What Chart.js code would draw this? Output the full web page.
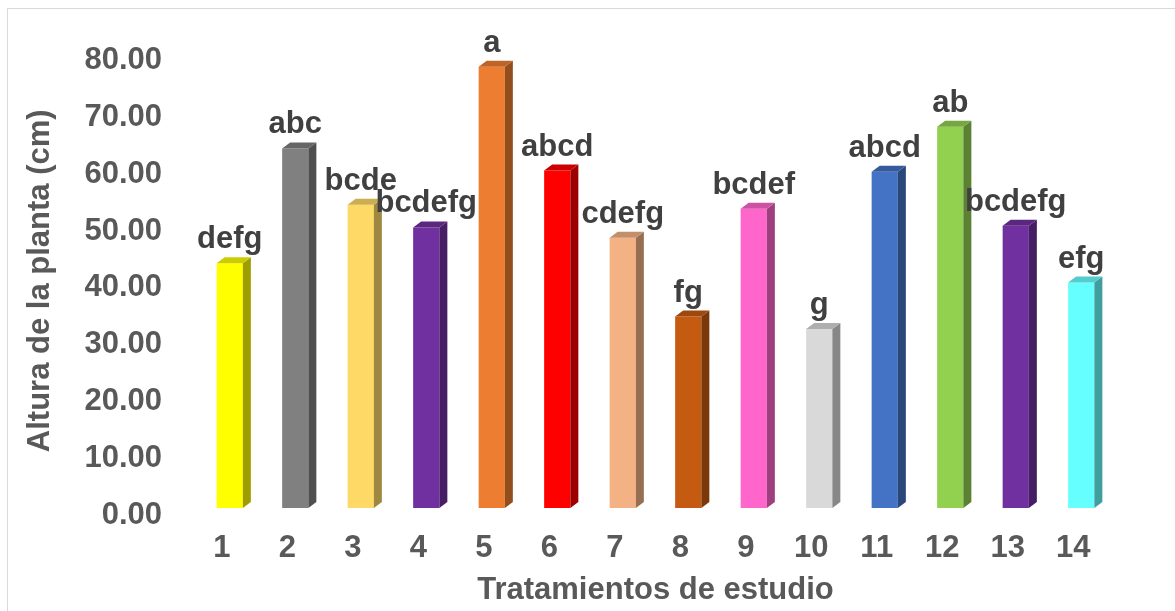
<!DOCTYPE html>
<html>
<head>
<meta charset="utf-8">
<script src="https://cdn.jsdelivr.net/npm/chart.js@4/dist/chart.umd.min.js"></script>
<style>
  html, body { margin: 0; padding: 0; background: #fff; }
  #wrap { position: relative; width: 1175px; height: 611px; overflow: hidden; }
  #frame { position: absolute; left: 7px; top: 8px; width: 1200px; height: 700px;
           border-left: 1px solid #d9d9d9; border-top: 1px solid #d9d9d9; }
  canvas { position: absolute; left: 0; top: 0; }
</style>
</head>
<body>
<div id="wrap">
  <div id="frame"></div>
  <canvas id="c" width="1175" height="611"></canvas>
</div>
<script>
const categories = ['1','2','3','4','5','6','7','8','9','10','11','12','13','14'];
const alturas = [43.1, 63.3, 53.4, 49.4, 77.7, 59.4, 47.6, 33.7, 52.7, 31.5, 59.2, 67.1, 49.7, 39.7];
const letras = ['defg','abc','bcde','bcdefg','a','abcd','cdefg','fg','bcdef','g','abcd','ab','bcdefg','efg'];
const colores = ['#FFFF00','#808080','#FFD966','#7030A0','#ED7D31','#FF0000','#F4B183','#C55A11','#FF66CC','#D9D9D9','#4472C4','#92D050','#7030A0','#66FFFF'];
const yTicks = [0, 10, 20, 30, 40, 50, 60, 70, 80];

const FONT = '"Liberation Sans", Arial, sans-serif';
const FS = 31;

function shade(hex, f) {
  const n = parseInt(hex.slice(1), 16);
  const r = Math.round(((n >> 16) & 255) * f);
  const g = Math.round(((n >> 8) & 255) * f);
  const b = Math.round((n & 255) * f);
  return `rgb(${r},${g},${b})`;
}

const bar3d = {
  id: 'bar3d',
  afterDatasetsDraw(chart) {
    const ctx = chart.ctx;
    const meta = chart.getDatasetMeta(0);
    const dx = 8, dy = -6;
    ctx.save();
    meta.data.forEach((el, i) => {
      const { x, y, width, base } = el.getProps(['x', 'y', 'width', 'base'], true);
      const l = x - width / 2, r = x + width / 2;
      ctx.fillStyle = shade(colores[i], 0.62);
      ctx.beginPath();
      ctx.moveTo(r, y);
      ctx.lineTo(r + dx, y + dy);
      ctx.lineTo(r + dx, base + dy);
      ctx.lineTo(r, base);
      ctx.closePath();
      ctx.fill();
      ctx.fillStyle = shade(colores[i], 0.8);
      ctx.beginPath();
      ctx.moveTo(l, y);
      ctx.lineTo(l + dx, y + dy);
      ctx.lineTo(r + dx, y + dy);
      ctx.lineTo(r, y);
      ctx.closePath();
      ctx.fill();
      ctx.fillStyle = '#404040';
      ctx.font = 'bold ' + FS + 'px ' + FONT;
      ctx.textAlign = 'center';
      ctx.textBaseline = 'alphabetic';
      ctx.fillText(letras[i], x, y - 15);
    });
    ctx.restore();
  }
};

new Chart(document.getElementById('c'), {
  type: 'bar',
  data: {
    labels: categories,
    datasets: [{
      data: alturas,
      backgroundColor: colores,
      borderWidth: 0,
      categoryPercentage: 1,
      barPercentage: 0.4
    }]
  },
  options: {
    responsive: false,
    animation: false,
    events: [],
    layout: { padding: { left: 0, right: 61, top: 0, bottom: 0 } },
    plugins: { legend: { display: false }, tooltip: { enabled: false } },
    scales: {
      x: {
        grid: { display: false, drawTicks: false },
        border: { display: false },
        ticks: { color: '#595959', font: { family: FONT, size: FS, weight: 'bold' }, padding: 22, labelOffset: -8 },
        title: { display: true, text: 'Tratamientos de estudio', color: '#595959',
                 font: { family: FONT, size: FS, weight: 'bold' }, padding: { top: 0, bottom: 2 } },
        afterFit(s) { s.height = 103; }
      },
      y: {
        min: 0, max: 80,
        grid: { display: false, drawTicks: false },
        border: { display: false },
        afterBuildTicks(s) { s.ticks = yTicks.map(v => ({ value: v })); },
        ticks: { color: '#595959', font: { family: FONT, size: FS, weight: 'bold' }, padding: 35, labelOffset: 7,
                 callback: v => Number(v).toFixed(2) },
        title: { display: true, text: 'Altura de la planta (cm)', color: '#595959',
                 font: { family: FONT, size: FS, weight: 'bold' }, padding: { top: 22, bottom: 0 } },
        afterFit(s) { s.width = 197; }
      }
    }
  },
  plugins: [bar3d]
});
</script>
</body>
</html>
